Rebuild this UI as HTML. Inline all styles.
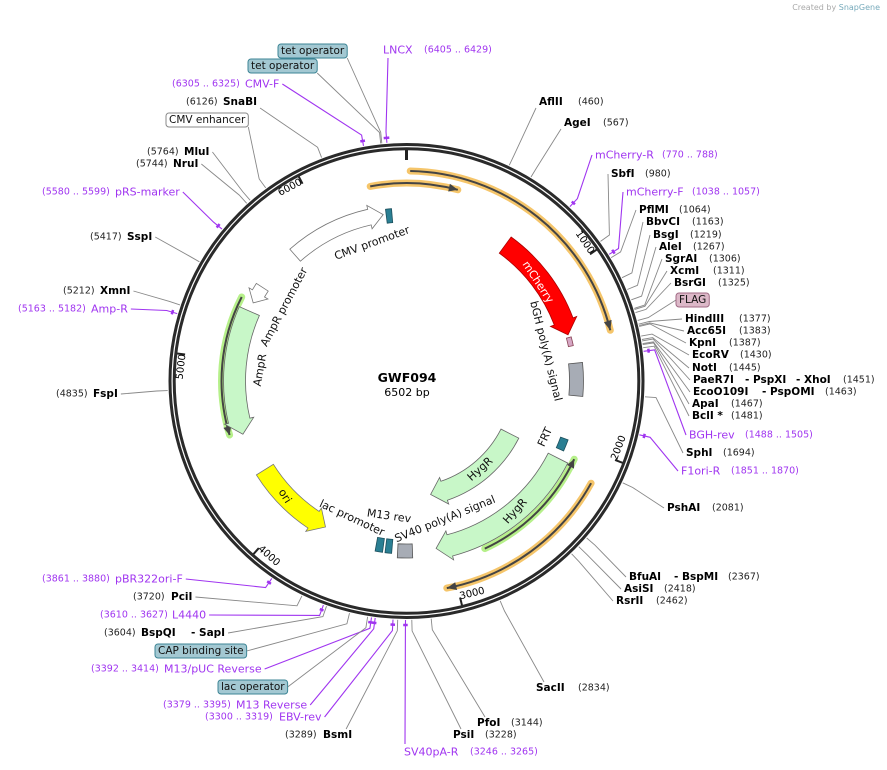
<!DOCTYPE html>
<html><head><meta charset="utf-8"><style>
html,body{margin:0;padding:0;background:#fff;}
svg{display:block;font-family:"DejaVu Sans","Liberation Sans",sans-serif;}
.b{font-weight:bold;font-size:10.5px;fill:#000;}
.n{font-size:9.5px;fill:#222;}
.p{font-size:11px;fill:#a035f0;}
.pn{font-size:9.5px;fill:#a035f0;}
.f{font-size:11px;fill:#111;}
.fb{font-size:10.5px;fill:#111;}
</style></head><body>
<svg id="map" width="887" height="770" viewBox="0 0 887 770">
<text x="880" y="10" text-anchor="end" style="font-size:8px;fill:#aaa">Created by <tspan style="fill:#7ab">SnapGene</tspan></text>
<text x="407" y="382" text-anchor="middle" style="font-size:12.5px;font-weight:bold">GWF094</text>
<text x="407" y="396" text-anchor="middle" style="font-size:11px">6502 bp</text>
</svg>
<script>
const TOTAL = 6502;
const tickValues = [1000, 2000, 3000, 4000, 5000, 6000];
const enzymeNames = ['AflII','AgeI','SbfI','PflMI','BbvCI','BsgI','AleI','SgrAI','XcmI','BsrGI','HindIII','Acc65I','KpnI','EcoRV','NotI','PaeR7I - PspXI - XhoI','EcoO109I - PspOMI','ApaI','BclI *','SphI','PshAI','BfuAI - BspMI','AsiSI','RsrII','SacII','PfoI','PsiI','BsmI','BspQI - SapI','PciI','FspI','XmnI','SspI','NruI','MluI','SnaBI'];
const enzymePositions = [460,567,980,1064,1163,1219,1267,1306,1311,1325,1377,1383,1387,1430,1445,1451,1463,1467,1481,1694,2081,2367,2418,2462,2834,3144,3228,3289,3604,3720,4835,5212,5417,5744,5764,6126];
const primerNames = ['mCherry-R','mCherry-F','BGH-rev','F1ori-R','SV40pA-R','EBV-rev','M13 Reverse','M13/pUC Reverse','L4440','pBR322ori-F','Amp-R','pRS-marker','CMV-F','LNCX'];
const primerStarts = [770,1038,1488,1851,3246,3300,3379,3392,3610,3861,5163,5580,6305,6405];
const primerEnds = [788,1057,1505,1870,3265,3319,3395,3414,3627,3880,5182,5599,6325,6429];
const featureNames = ['orf-outer','orf-top','orf-lower','orf-right-line','orf-left-line','CMV promoter','tet-operators','mCherry','bGH-small','bGH poly(A) signal','FRT','HygR','HygR-2','SV40 poly(A) signal','lac-a','lac-b','ori','AmpR','AmpR promoter'];
const featureStarts = [18,6311,2149,2077,4570,5752,6376,650,1355,1517,1987,2113,2113,3215,3340,3395,3775,4551,5364];
const featureEnds = [1373,271,3052,2799,5364,6358,6412,1337,1409,1716,2059,3070,3034,3305,3380,3440,4298,5310,5473];
const featureDirs = ['cw','cw','cw','ccw','ccw','cw','none','cw','none','none','none','cw','cw','none','none','none','ccw','ccw','ccw'];
const boxFeatureNames = ['tet operator','tet operator','CMV enhancer','FLAG','CAP binding site','lac operator'];
const boxFeaturePositions = [6390,6395,5850,1360,3500,3420];

// ---- styles / layout (not data) ----
const featureStyle = [
 {k:'line',r:210,c:'#f5c56a'},{k:'line',r:198,c:'#f5c56a'},{k:'line',r:211,c:'#f5c56a'},
 {k:'line',r:185,c:'#b6f08a'},{k:'line',r:185,c:'#b6f08a'},
 {k:'arr',r:168,w:16,fill:'#fff',st:'#777'},{k:'arr',r:166,w:14,fill:'#2a7f93',st:'#1d4f5c'},
 {k:'arr',r:168,w:20,fill:'#ff0000',st:'#a00'},{k:'arr',r:168,w:5,fill:'#d6a6c4',st:'#845'},
 {k:'arr',r:170,w:14,fill:'#a7acb5',st:'#555'},{k:'arr',r:168,w:8,fill:'#2a7f93',st:'#1d4f5c'},
 {k:'arr',r:170,w:22,fill:'#c8f7c8',st:'#666'},{k:'arr',r:116,w:20,fill:'#c8f7c8',st:'#666'},
 {k:'arr',r:170,w:14,fill:'#a7acb5',st:'#555'},{k:'arr',r:166,w:14,fill:'#2a7f93',st:'#1d4f5c'},
 {k:'arr',r:166,w:14,fill:'#2a7f93',st:'#1d4f5c'},
 {k:'arr',r:167,w:20,fill:'#ffff00',st:'#777'},{k:'arr',r:172,w:22,fill:'#c8f7c8',st:'#666'},
 {k:'arr',r:172,w:14,fill:'#fff',st:'#777'}];
const enzymeLayout = {
 'AflII':[539,102,578,'R'],'AgeI':[564,123,603,'R'],'SbfI':[611,174,645,'R'],'PflMI':[639,210,679,'R'],
 'BbvCI':[646,222,692,'R'],'BsgI':[653,235,690,'R'],'AleI':[659,247,693,'R'],'SgrAI':[665,259,709,'R'],
 'XcmI':[670,271,713,'R'],'BsrGI':[674,283,718,'R'],'HindIII':[685,319,739,'R'],'Acc65I':[687,331,739,'R'],
 'KpnI':[689,343,729,'R'],'EcoRV':[692,355,740,'R'],'NotI':[692,368,729,'R'],'PaeR7I - PspXI - XhoI':[693,380,843,'R'],
 'EcoO109I - PspOMI':[693,392,825,'R'],'ApaI':[692,404,731,'R'],'BclI *':[692,416,731,'R'],'SphI':[686,453,723,'R'],
 'PshAI':[667,508,712,'R'],'BfuAI - BspMI':[629,577,728,'R'],'AsiSI':[624,589,664,'R'],'RsrII':[616,601,656,'R'],
 'SacII':[536,688,578,'R'],'PfoI':[477,723,511,'R'],'PsiI':[453,735,485,'R'],
 'BsmI':[323,735,285,'L'],'BspQI - SapI':[141,633,104,'L'],'PciI':[171,597,133,'L'],'FspI':[93,394,56,'L'],
 'XmnI':[100,291,63,'L'],'SspI':[127,237,90,'L'],'NruI':[173,164,136,'L'],'MluI':[184,152,147,'L'],'SnaBI':[223,102,186,'L']};
const enzymePartX = {'PaeR7I - PspXI - XhoI':[693,745,796],'EcoO109I - PspOMI':[693,762],'BfuAI - BspMI':[629,674],'BspQI - SapI':[141,191]};
const primerLayout = {
 'mCherry-R':[595,155,662,'R'],'mCherry-F':[626,192,692,'R'],'BGH-rev':[689,435,745,'R'],'F1ori-R':[681,471,731,'R'],
 'SV40pA-R':[404,752,470,'D'],'EBV-rev':[279,717,205,'L'],'M13 Reverse':[236,705,163,'L'],'M13/pUC Reverse':[164,669,91,'L'],
 'L4440':[172,615,100,'L'],'pBR322ori-F':[115,579,42,'L'],'Amp-R':[91,309,18,'L'],'pRS-marker':[115,192,42,'L'],
 'CMV-F':[245,84,172,'L'],'LNCX':[383,50,424,'U']};
const boxLayout = [[250,66,'#a3c8d2','#3c8595','L'],[280,51,'#a3c8d2','#3c8595','L'],[168,120,'#fff','#888','L'],
 [678,300,'#dcb8c8','#a06a84','R'],[157,651,'#a3c8d2','#3c8595','L'],[220,687,'#a3c8d2','#3c8595','L']];
const featureLabels = [['CMV promoter',372,243,-20,'#111'],['AmpR promoter',284,307,-62,'#111'],['AmpR',260,370,-80,'#111'],
 ['ori',285,496,58,'#111'],['lac promoter',352,518,25,'#111'],['M13 rev',389,516,8,'#111'],['SV40 poly(A) signal',445,519,-22,'#111'],
 ['HygR',480,469,-42,'#111'],['HygR',515,511,-48,'#111'],['FRT',545,437,-65,'#111'],['bGH poly(A) signal',546,351,76,'#111'],
 ['mCherry',538,282,57,'#fff']];

const NS='http://www.w3.org/2000/svg';
const svg=document.getElementById('map');
const cx=406.5, cy=381;
function deg(bp){return bp/TOTAL*360;}
function P(r,a){const t=a*Math.PI/180;return [cx+r*Math.sin(t), cy-r*Math.cos(t)];}
function pt(p){return p[0].toFixed(1)+','+p[1].toFixed(1);}
function mk(tag,attrs,parent){const e=document.createElementNS(NS,tag);for(const k in attrs)e.setAttribute(k,attrs[k]);(parent||svg).appendChild(e);return e;}
const gF=mk('g',{});  
const gL=mk('g',{});  
const gR=mk('g',{});  
const gT=mk('g',{});  

const c1=mk('circle',{cx:cx,cy:cy,r:236.5,fill:'none',stroke:'#2a2a2a','stroke-width':3},gR);
 
const c2=mk('circle',{cx:cx,cy:cy,r:232.3,fill:'none',stroke:'#2a2a2a','stroke-width':3},gR);
 
const z0=mk('line',{x1:P(231,0)[0],y1:P(231,0)[1],x2:P(221,0)[0],y2:P(221,0)[1],stroke:'#222','stroke-width':3},gR);
 
tickValues.forEach(v=>{
 const a=deg(v); const p1=P(231,a), p2=P(223,a);
 const t=mk('line',{x1:p1[0],y1:p1[1],x2:p2[0],y2:p2[1],stroke:'#222','stroke-width':2},gR);
  
 let rot=a, flip=false;
 if(a>90&&a<=270){rot=a-180;flip=true;} else if(a>270){rot=a-360;}
 let tx;
 if(!flip){
   const q=P(229,a); tx=mk('text',{x:q[0],y:q[1],transform:`rotate(${rot} ${q[0]} ${q[1]})`,'text-anchor':'end','dominant-baseline':'hanging',style:'font-size:10px'},gR);
 } else {
   const q=P(225,a); tx=mk('text',{x:q[0],y:q[1],transform:`rotate(${rot} ${q[0]} ${q[1]})`,'text-anchor':'start',style:'font-size:10px'},gR);
 }
 tx.textContent=String(v);
  
});

function arrowPath(a1,a2,r,w,dir){
 const ri=r-w/2, ro=r+w/2, hw=w/2+4;
 let h=Math.min(14/r*180/Math.PI,(a2-a1)*0.6);
 if(dir==='none'){const L=(a2-a1)>180?1:0;return `M${pt(P(ro,a1))} A${ro},${ro} 0 ${L} 1 ${pt(P(ro,a2))} L${pt(P(ri,a2))} A${ri},${ri} 0 ${L} 0 ${pt(P(ri,a1))} Z`;}
 if(dir==='cw'){const b=a2-h,L=(b-a1)>180?1:0;
  return `M${pt(P(ro,a1))} A${ro},${ro} 0 ${L} 1 ${pt(P(ro,b))} L${pt(P(r+hw,b))} L${pt(P(r,a2))} L${pt(P(r-hw,b))} L${pt(P(ri,b))} A${ri},${ri} 0 ${L} 0 ${pt(P(ri,a1))} Z`;}
 const b=a1+h,L=(a2-b)>180?1:0;
 return `M${pt(P(ro,a2))} A${ro},${ro} 0 ${L} 0 ${pt(P(ro,b))} L${pt(P(r+hw,b))} L${pt(P(r,a1))} L${pt(P(r-hw,b))} L${pt(P(ri,b))} A${ri},${ri} 0 ${L} 1 ${pt(P(ri,a2))} Z`;
}
featureNames.forEach((nm,i)=>{
 const s=featureStyle[i]; let a1=deg(featureStarts[i]), a2=deg(featureEnds[i]); if(a2<a1)a2+=360;
 if(s.k==='line'){
  const L=(a2-a1)>180?1:0; const d=`M${pt(P(s.r,a1))} A${s.r},${s.r} 0 ${L} 1 ${pt(P(s.r,a2))}`;
  const g=mk('path',{d:d,fill:'none',stroke:s.c,'stroke-width':7,'stroke-linecap':'round'},gF);
   
  const ln=mk('path',{d:d,fill:'none',stroke:'#444','stroke-width':2},gF);
   
  const tip=featureDirs[i]==='cw'?a2:a1, base=featureDirs[i]==='cw'?a2-2.6:a1+2.6;
  const hd=mk('path',{d:`M${pt(P(s.r,tip))} L${pt(P(s.r+4,base))} L${pt(P(s.r-4,base))} Z`,fill:'#444'},gF);
   
 } else {
  const p=mk('path',{d:arrowPath(a1,a2,s.r,s.w,featureDirs[i]),fill:s.fill,stroke:s.st,'stroke-width':0.8},gF);
   
 }
});
featureLabels.forEach(f=>{
 const t=mk('text',{x:f[1],y:f[2],transform:`rotate(${f[3]} ${f[1]} ${f[2]})`,'text-anchor':'middle','dominant-baseline':'central',class:'f',style:'fill:'+f[4]},gT);
 t.textContent=f[0];
  
});

function leader(ax,ay,a,color,name){
 const m=P(250,a), e=P(239,a);
 const l=mk('polyline',{points:`${ax},${ay} ${pt(m)} ${pt(e)}`,fill:'none',stroke:color,'stroke-width':color==='#888'?0.9:1.1},gL);
  
}
enzymeNames.forEach((nm,i)=>{
 const L=enzymeLayout[nm]; const a=deg(enzymePositions[i]);
 const g=mk('g',{},gT);  
 const parts=nm.split(' - ');
 const xs=enzymePartX[nm]||[L[0]];
 let firstW=0, lastEnd=L[0];
 parts.forEach((ptxt,j)=>{
  const t=mk('text',{x:xs[j],y:L[1],'dominant-baseline':'central',class:'b'},g);
  t.textContent=(j>0?'- ':'')+ptxt;
  const w=t.getComputedTextLength(); if(j===0)firstW=w; lastEnd=xs[j]+w;
 });
 const n=mk('text',{x:L[2],y:L[1],'dominant-baseline':'central',class:'n'},g); n.textContent='('+enzymePositions[i]+')';
 let ax,ay=L[1];
 if(L[3]==='R'){ax=L[0]-3;} else {ax=lastEnd+3;}
 if(L[1]<140){ay=L[1]+6;}
 if(L[3]==='R' && L[1]>680){ay=L[1]-6; ax=L[0]+8;}
 if(nm==='BsmI'){ay=L[1]-6;ax=L[0]+firstW-6;}
 leader(ax,ay,a,'#888','enzyme-leader-'+i);
});
primerNames.forEach((nm,i)=>{
 const L=primerLayout[nm]; const a1=deg(primerStarts[i]), a2=deg(primerEnds[i]); const am=(a1+a2)/2;
 const g=mk('g',{},gT);  
 const t=mk('text',{x:L[0],y:L[1],'dominant-baseline':'central',class:'p'},g); t.textContent=nm;
 const n=mk('text',{x:L[2],y:L[1],'dominant-baseline':'central',class:'pn'},g); n.textContent='('+primerStarts[i]+' .. '+primerEnds[i]+')';
 let ax,ay=L[1];
 if(L[3]==='R'){ax=L[0]-3;} else if(L[3]==='L'){ax=L[0]+t.getComputedTextLength()+3;} else if(L[3]==='D'){ax=L[0]+1;ay=L[1]-8;} else {ax=L[0]+5;ay=L[1]+8;}
 leader(ax,ay,am,'#a035f0','primer-leader-'+i);
 const m=mk('path',{d:`M${pt(P(244,a1))} A244,244 0 0 1 ${pt(P(244,a2))}`,fill:'none',stroke:'#a035f0','stroke-width':2.5},gL);
  
});
boxFeatureNames.forEach((nm,i)=>{
 const L=boxLayout[i]; const a=deg(boxFeaturePositions[i]);
 const g=mk('g',{},gT);  
 const r=mk('rect',{x:L[0]-2,y:L[1]-7,height:14,rx:3,fill:L[2],stroke:L[3],'stroke-width':1},g);
 const t=mk('text',{x:L[0]+1,y:L[1],'dominant-baseline':'central',class:'fb'},g); t.textContent=nm;
 const w=t.getComputedTextLength(); r.setAttribute('width',w+6);
 const ax=L[4]==='R'?L[0]-2:L[0]+w+4;
 leader(ax,L[1]+(L[1]<130?7:0),a,'#888','box-leader-'+i);
});
</script>
</body></html>
